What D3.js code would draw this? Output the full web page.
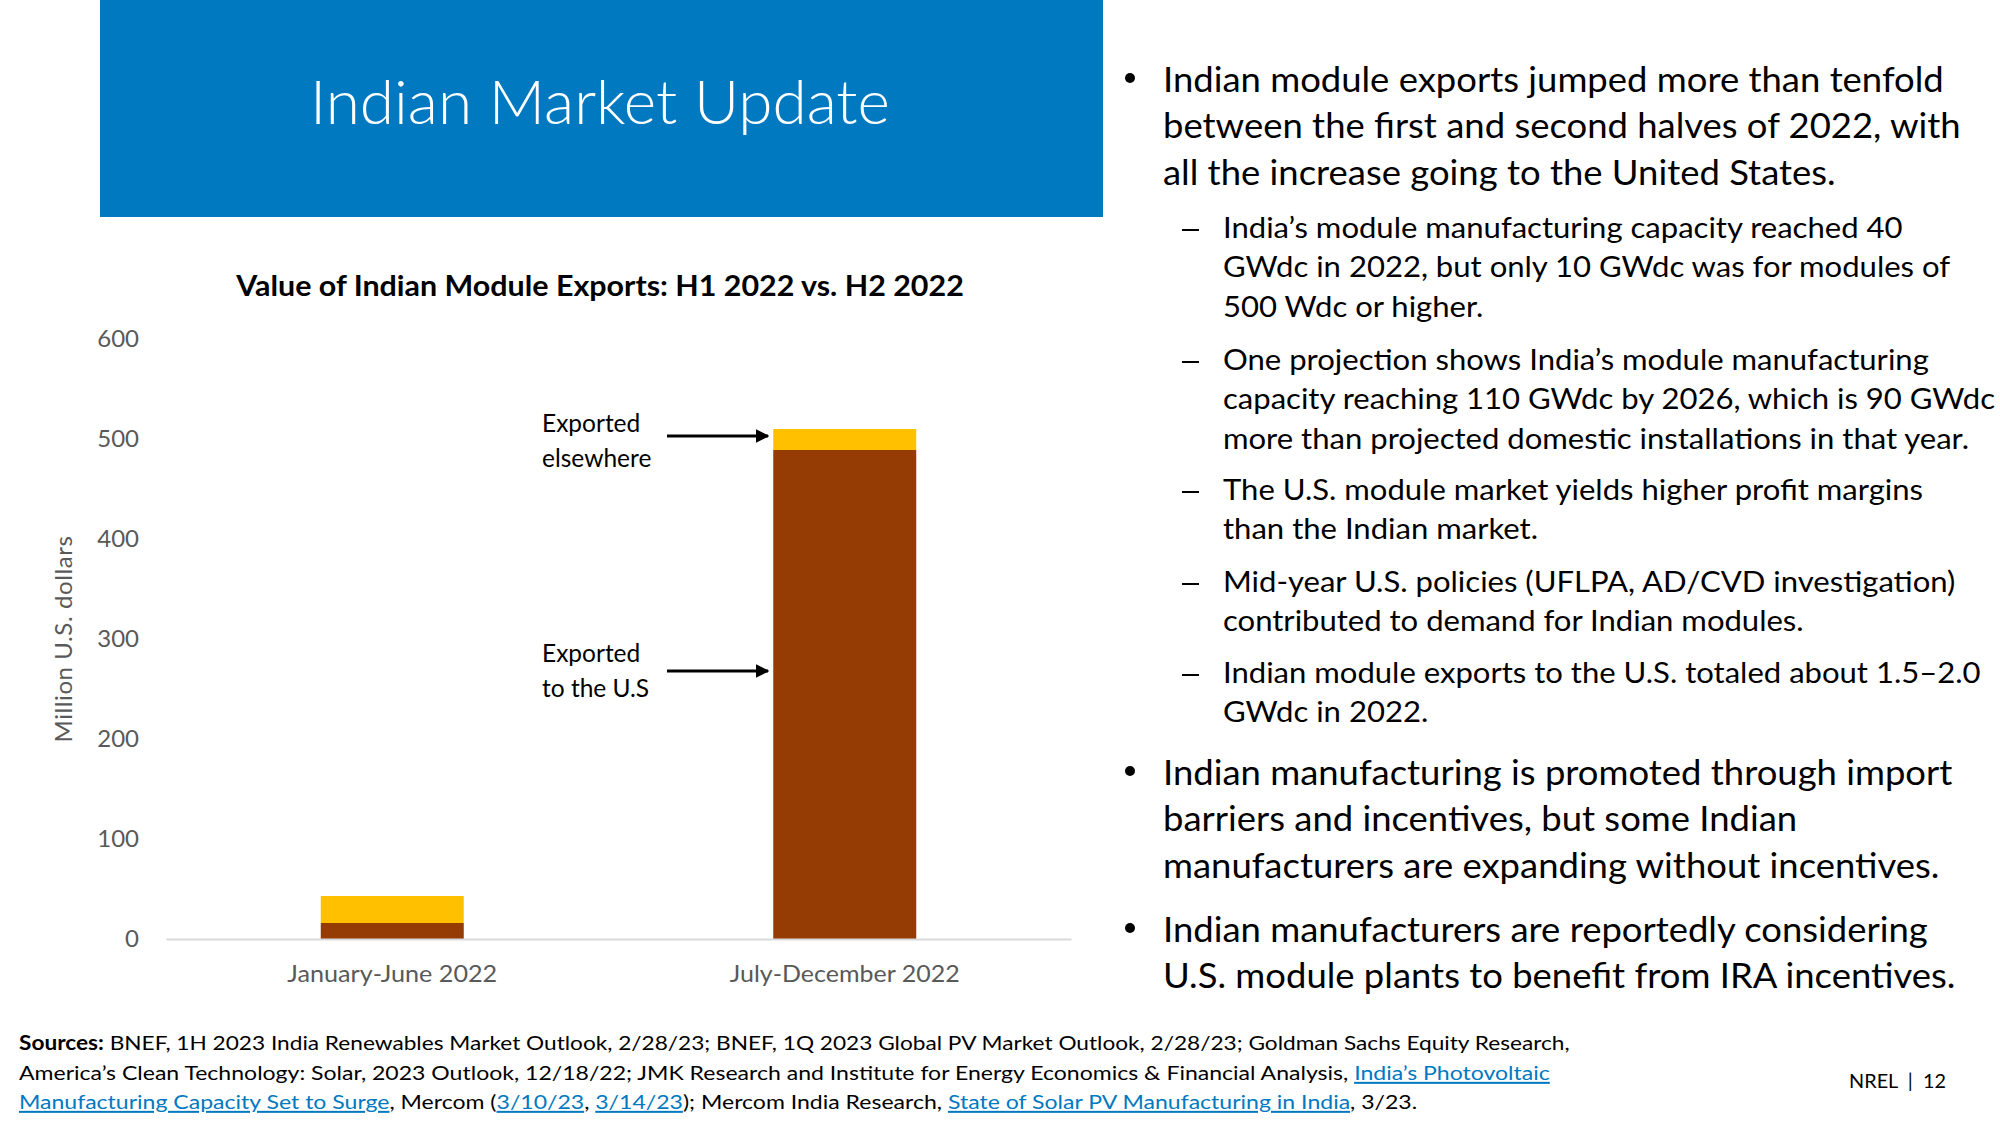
<!DOCTYPE html>
<html>
<head>
<meta charset="utf-8">
<script src="https://cdn.jsdelivr.net/npm/d3@7"></script>
<style>
  html, body { margin: 0; padding: 0; background: #ffffff; }
  svg { display: block; font-family: Lato, "Open Sans", sans-serif; }
</style>
</head>
<body>
<svg id="slide" width="2000" height="1125"></svg>
<script>
// ---------------- DATA ----------------
const slideTitle = "Indian Market Update";
const chartTitle = "Value of Indian Module Exports: H1 2022 vs. H2 2022";
const yAxisLabel = "Million U.S. dollars";
const categories = ["January-June 2022", "July-December 2022"];
const seriesNames = ["Exported to the U.S", "Exported elsewhere"];
const exportedToUS = [16, 489];
const exportedElsewhere = [27, 21];
const yTicks = [0, 100, 200, 300, 400, 500, 600];
const annotationElsewhere = ["Exported", "elsewhere"];
const annotationUS = ["Exported", "to the U.S"];

const bullet1 = ["Indian module exports jumped more than tenfold",
                 "between the first and second halves of 2022, with",
                 "all the increase going to the United States."];
const subBullets = [
  ["India\u2019s module manufacturing capacity reached 40",
   "GWdc in 2022, but only 10 GWdc was for modules of",
   "500 Wdc or higher."],
  ["One projection shows India\u2019s module manufacturing",
   "capacity reaching 110 GWdc by 2026, which is 90 GWdc",
   "more than projected domestic installations in that year."],
  ["The U.S. module market yields higher profit margins",
   "than the Indian market."],
  ["Mid-year U.S. policies (UFLPA, AD/CVD investigation)",
   "contributed to demand for Indian modules."],
  ["Indian module exports to the U.S. totaled about 1.5\u20132.0",
   "GWdc in 2022."]
];
const bullet2 = ["Indian manufacturing is promoted through import",
                 "barriers and incentives, but some Indian",
                 "manufacturers are expanding without incentives."];
const bullet3 = ["Indian manufacturers are reportedly considering",
                 "U.S. module plants to benefit from IRA incentives."];

// footer: [text, kind] kind: b=bold, n=normal, l=link
const footerLines = [
  [["Sources:", "b"], [" BNEF, 1H 2023 India Renewables Market Outlook, 2/28/23; BNEF, 1Q 2023 Global PV Market Outlook, 2/28/23; Goldman Sachs Equity Research,", "n"]],
  [["America\u2019s Clean Technology: Solar, 2023 Outlook, 12/18/22; JMK Research and Institute for Energy Economics & Financial Analysis, ", "n"], ["India\u2019s Photovoltaic", "l"]],
  [["Manufacturing Capacity Set to Surge", "l"], [", Mercom (", "n"], ["3/10/23", "l"], [", ", "n"], ["3/14/23", "l"], ["); Mercom India Research, ", "n"], ["State of Solar PV Manufacturing in India", "l"], [", 3/23.", "n"]]
];
const pageLabel = "NREL  |  12";

// ---------------- DRAW ----------------
const svg = d3.select("#slide");
const blue = "#0079C1";

// horizontal fit helper (mimics narrower original typeface)
function fitX(sel, anchorX, target) {
  const w = sel.node().getComputedTextLength();
  const s = target / w;
  sel.attr("transform", `translate(${anchorX * (1 - s)},0) scale(${s},1)`);
  return s;
}
function applyScale(sel, anchorX, s) {
  sel.attr("transform", `translate(${anchorX * (1 - s)},0) scale(${s},1)`);
}

// Header band
svg.append("rect").attr("x", 100).attr("y", 0).attr("width", 1003).attr("height", 217).attr("fill", blue);
const ht = svg.append("text").attr("x", 600).attr("y", 124).attr("text-anchor", "middle")
  .attr("fill", "#ffffff").attr("font-size", 61).attr("font-weight", 300).text(slideTitle);
fitX(ht, 600, 580);

// Chart title
const ct = svg.append("text").attr("x", 600).attr("y", 296).attr("text-anchor", "middle")
  .attr("fill", "#000000").attr("font-size", 28.5).attr("font-weight", 700).text(chartTitle);
fitX(ct, 600, 728);

// Scales
const x = d3.scaleBand().domain(categories).range([166, 1071]).paddingInner(0.684).paddingOuter(0.342);
const y = d3.scaleLinear().domain([0, 600]).range([939, 339]);

// Stacked bars
const rows = categories.map((c, i) => ({ cat: c, us: exportedToUS[i], other: exportedElsewhere[i] }));
const stack = d3.stack().keys(["us", "other"])(rows);
const colors = { us: "#953B04", other: "#FFC000" };
svg.append("g").selectAll("g").data(stack).join("g")
  .attr("fill", d => colors[d.key])
  .selectAll("rect").data(d => d).join("rect")
  .attr("x", d => x(d.data.cat))
  .attr("width", x.bandwidth())
  .attr("y", d => y(d[1]))
  .attr("height", d => y(d[0]) - y(d[1]));

// Y axis
const yAx = svg.append("g").attr("transform", "translate(166,0)")
  .call(d3.axisLeft(y).tickValues(yTicks).tickSize(0).tickPadding(27).tickFormat(d3.format("d")));
yAx.select(".domain").remove();
yAx.selectAll("text").attr("font-size", 24).attr("fill", "#595959").attr("font-family", "Lato, sans-serif");

// X axis
const xAx = svg.append("g").attr("transform", "translate(0,939)")
  .call(d3.axisBottom(x).tickSize(0).tickSizeOuter(0).tickPadding(26));
xAx.select(".domain").attr("stroke", "#D9D9D9").attr("stroke-width", 2);
xAx.selectAll("text").attr("font-size", 24).attr("fill", "#595959").attr("font-family", "Lato, sans-serif");
xAx.selectAll(".tick text").each(function(d, i) {
  fitX(d3.select(this), 0, [210, 230][i]);
});

// Y axis label
svg.append("text")
  .attr("transform", "translate(72,639) rotate(-90)")
  .attr("text-anchor", "middle").attr("font-size", 24).attr("fill", "#595959")
  .attr("letter-spacing", 0.6).text(yAxisLabel);

// Annotations with arrows
const defs = svg.append("defs");
defs.append("marker").attr("id", "ah").attr("viewBox", "0 0 10 10")
  .attr("refX", 9).attr("refY", 5).attr("markerWidth", 4.2).attr("markerHeight", 4.2)
  .attr("orient", "auto").append("path").attr("d", "M0,0 L10,5 L0,10 z").attr("fill", "#000");

function annotate(lines, baseY, arrowValue) {
  lines.forEach((t, i) => {
    svg.append("text").attr("x", 542).attr("y", baseY + i * 35)
      .attr("font-size", 24.5).attr("fill", "#000").text(t);
  });
  const ay = y(arrowValue);
  svg.append("line").attr("x1", 667).attr("x2", 768).attr("y1", ay).attr("y2", ay)
    .attr("stroke", "#000").attr("stroke-width", 3.2).attr("marker-end", "url(#ah)");
}
annotate(annotationElsewhere, 432, 503);
annotate(annotationUS, 662, 268);

// Right text panel
const panel = svg.append("g");
const bulletX = 1130, bulletTextX = 1163, dashX = 1182, subTextX = 1223;
const bFont = 34, sFont = 28;

// measure scale factors
const probeB = panel.append("text").attr("font-size", bFont).text(bullet1[0]);
const sB = 781 / probeB.node().getComputedTextLength();
probeB.remove();
const probeS = panel.append("text").attr("font-size", sFont).text(subBullets[0][0]);
const sS = 680 / probeS.node().getComputedTextLength();
probeS.remove();

function drawBullet(lines, y0, lh) {
  panel.append("circle").attr("cx", bulletX).attr("cy", y0 - 14).attr("r", 5).attr("fill", "#000");
  lines.forEach((t, i) => {
    const tx = panel.append("text").attr("x", bulletTextX).attr("y", y0 + i * lh)
      .attr("font-size", bFont).attr("fill", "#000").text(t);
    applyScale(tx, bulletTextX, sB);
  });
}
function drawSub(lines, y0, lh) {
  panel.append("line").attr("x1", dashX).attr("x2", dashX + 17).attr("y1", y0 - 8).attr("y2", y0 - 8)
    .attr("stroke", "#000").attr("stroke-width", 2);
  lines.forEach((t, i) => {
    const tx = panel.append("text").attr("x", subTextX).attr("y", y0 + i * lh)
      .attr("font-size", sFont).attr("fill", "#000").text(t);
    applyScale(tx, subTextX, sS);
  });
}
const bLH = 46.5, sLH = 39.5;
drawBullet(bullet1, 92, bLH);
const subStarts = [238, 370, 500, 592, 683];
subBullets.forEach((lines, i) => drawSub(lines, subStarts[i], sLH));
drawBullet(bullet2, 785, bLH);
drawBullet(bullet3, 942, bLH);

// Footer
const footer = svg.append("g");
const fBase = [1050, 1080, 1109];
const fWidths = [1551, 1532, 1399];
footerLines.forEach((parts, i) => {
  const t = footer.append("text").attr("x", 19).attr("y", fBase[i]).attr("font-size", 20).attr("fill", "#000");
  parts.forEach(([txt, kind]) => {
    const ts = t.append("tspan").text(txt);
    if (kind === "b") ts.attr("font-weight", 700);
    if (kind === "l") ts.attr("fill", blue).style("text-decoration", "underline");
  });
  fitX(t, 19, fWidths[i]);
});

const pl = svg.append("text").attr("x", 1946).attr("y", 1088).attr("text-anchor", "end")
  .attr("font-size", 18.5).attr("fill", "#000").attr("xml:space", "preserve").style("white-space", "pre").text(pageLabel);
fitX(pl, 1946, 97);
</script>
</body>
</html>
